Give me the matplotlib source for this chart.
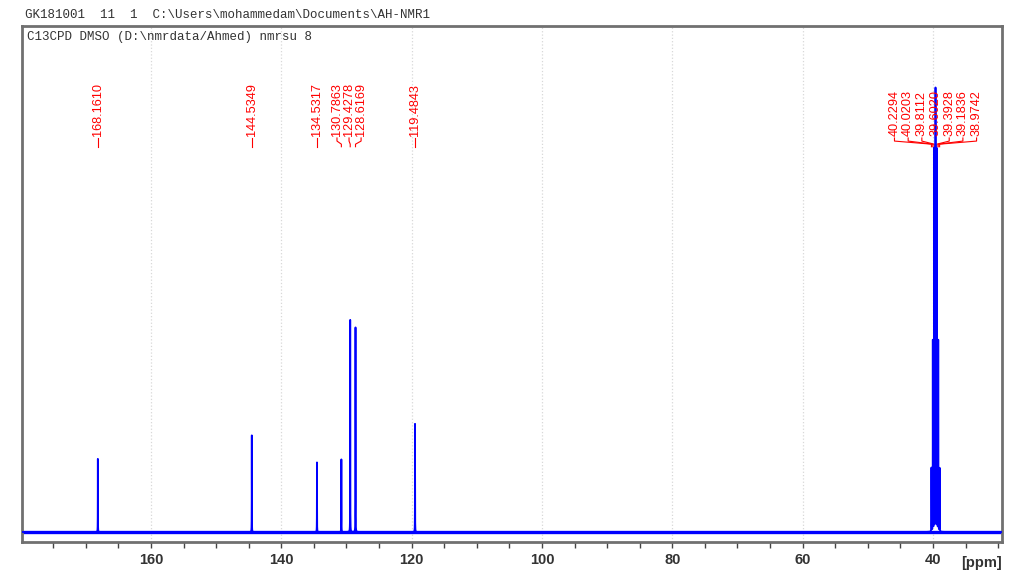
import numpy as np
import matplotlib
matplotlib.use("Agg")
import matplotlib.pyplot as plt
from matplotlib.ticker import MultipleLocator

# peak list (ppm, relative intensity, DMSO centre line = 100)
peak_ppm = [168.1610, 144.5349, 134.5317, 130.7863, 129.4278, 128.6169, 119.4843,
            40.2294, 40.0203, 39.8112, 39.6020, 39.3928, 39.1836, 38.9742]
peak_height = [16.4, 21.7, 15.7, 16.3, 47.8, 46.0, 24.4,
               14.3, 42.8, 85.9, 100.0, 85.9, 42.8, 14.3]

header_line1 = r"GK181001  11  1  C:\Users\mohammedam\Documents\AH-NMR1"
header_line2 = r"C13CPD DMSO (D:\nmrdata/Ahmed) nmrsu 8"
major_ticks = [160, 140, 120, 100, 80, 60, 40]

# build the trace from the peak list (narrow lorentzian lines)
ppm = np.linspace(179.8, 29.4, 80000)
gamma = 0.01
spec = np.zeros_like(ppm)
for p, h in zip(peak_ppm, peak_height):
    spec += h * gamma**2 / ((ppm - p)**2 + gamma**2)

fig = plt.figure(figsize=(10.26, 5.86), dpi=100)
ax = fig.add_axes([22/1026, 44/586, 980/1026, 516/586])

ax.axhline(0, color='#0000ff', lw=2.4, zorder=2)
ax.plot(ppm, spec, color='#0000ff', lw=1.3, zorder=3)

ax.set_xlim(179.8, 29.4)
ax.set_ylim(-2.24, 113.45)
ax.xaxis.set_minor_locator(MultipleLocator(5))
ax.set_xticks(major_ticks)
ax.set_xticklabels([str(t) for t in major_ticks])
ax.tick_params(axis='x', which='both', direction='out', length=4, width=1,
               color='#444444', labelsize=10.5, labelcolor='#333333', pad=4)
for lab in ax.get_xticklabels():
    lab.set_fontweight('bold')
    lab.set_family('Liberation Sans')
ax.set_yticks([])
for s in ax.spines.values():
    s.set_color('#707070')
    s.set_linewidth(2)
for t in major_ticks:
    ax.axvline(t, color='#d8d8d8', lw=0.9, ls=':', zorder=0)

ax.text(1.0, -0.028, "[ppm]", transform=ax.transAxes, ha='right', va='top',
        fontsize=10.5, fontweight='bold', color='#333333', family='Liberation Sans')

# spread labels of crowded peaks
def spread(positions, gap):
    groups = [[positions[0]]]
    for p in positions[1:]:
        if groups[-1][-1] - p < gap:
            groups[-1].append(p)
        else:
            groups.append([p])
    out = []
    for g in groups:
        c = np.mean(g)
        n = len(g)
        out += [c + (n - 1) / 2 * gap - i * gap for i in range(n)]
    return out

label_x = spread(peak_ppm[:7], 1.85) + spread(peak_ppm[7:], 2.1)
tr = ax.get_xaxis_transform()
for p, lx in zip(peak_ppm, label_x):
    ax.text(lx, 0.786, f"{p:.4f}", transform=tr, rotation=90, ha='center',
            va='bottom', fontsize=9.2, color='#ff0000', family='Liberation Sans')
    ax.plot([lx, lx, p, p], [0.783, 0.777, 0.771, 0.766], transform=tr,
            color='#ff0000', lw=0.8, clip_on=False)

fig.text(25/1026, 1 - 15/586, header_line1, family='Liberation Mono', fontsize=9,
         color='#333333', va='center')
fig.text(27/1026, 1 - 37/586, header_line2, family='Liberation Mono', fontsize=9,
         color='#333333', va='center')

fig.savefig("out.png", dpi=100)
